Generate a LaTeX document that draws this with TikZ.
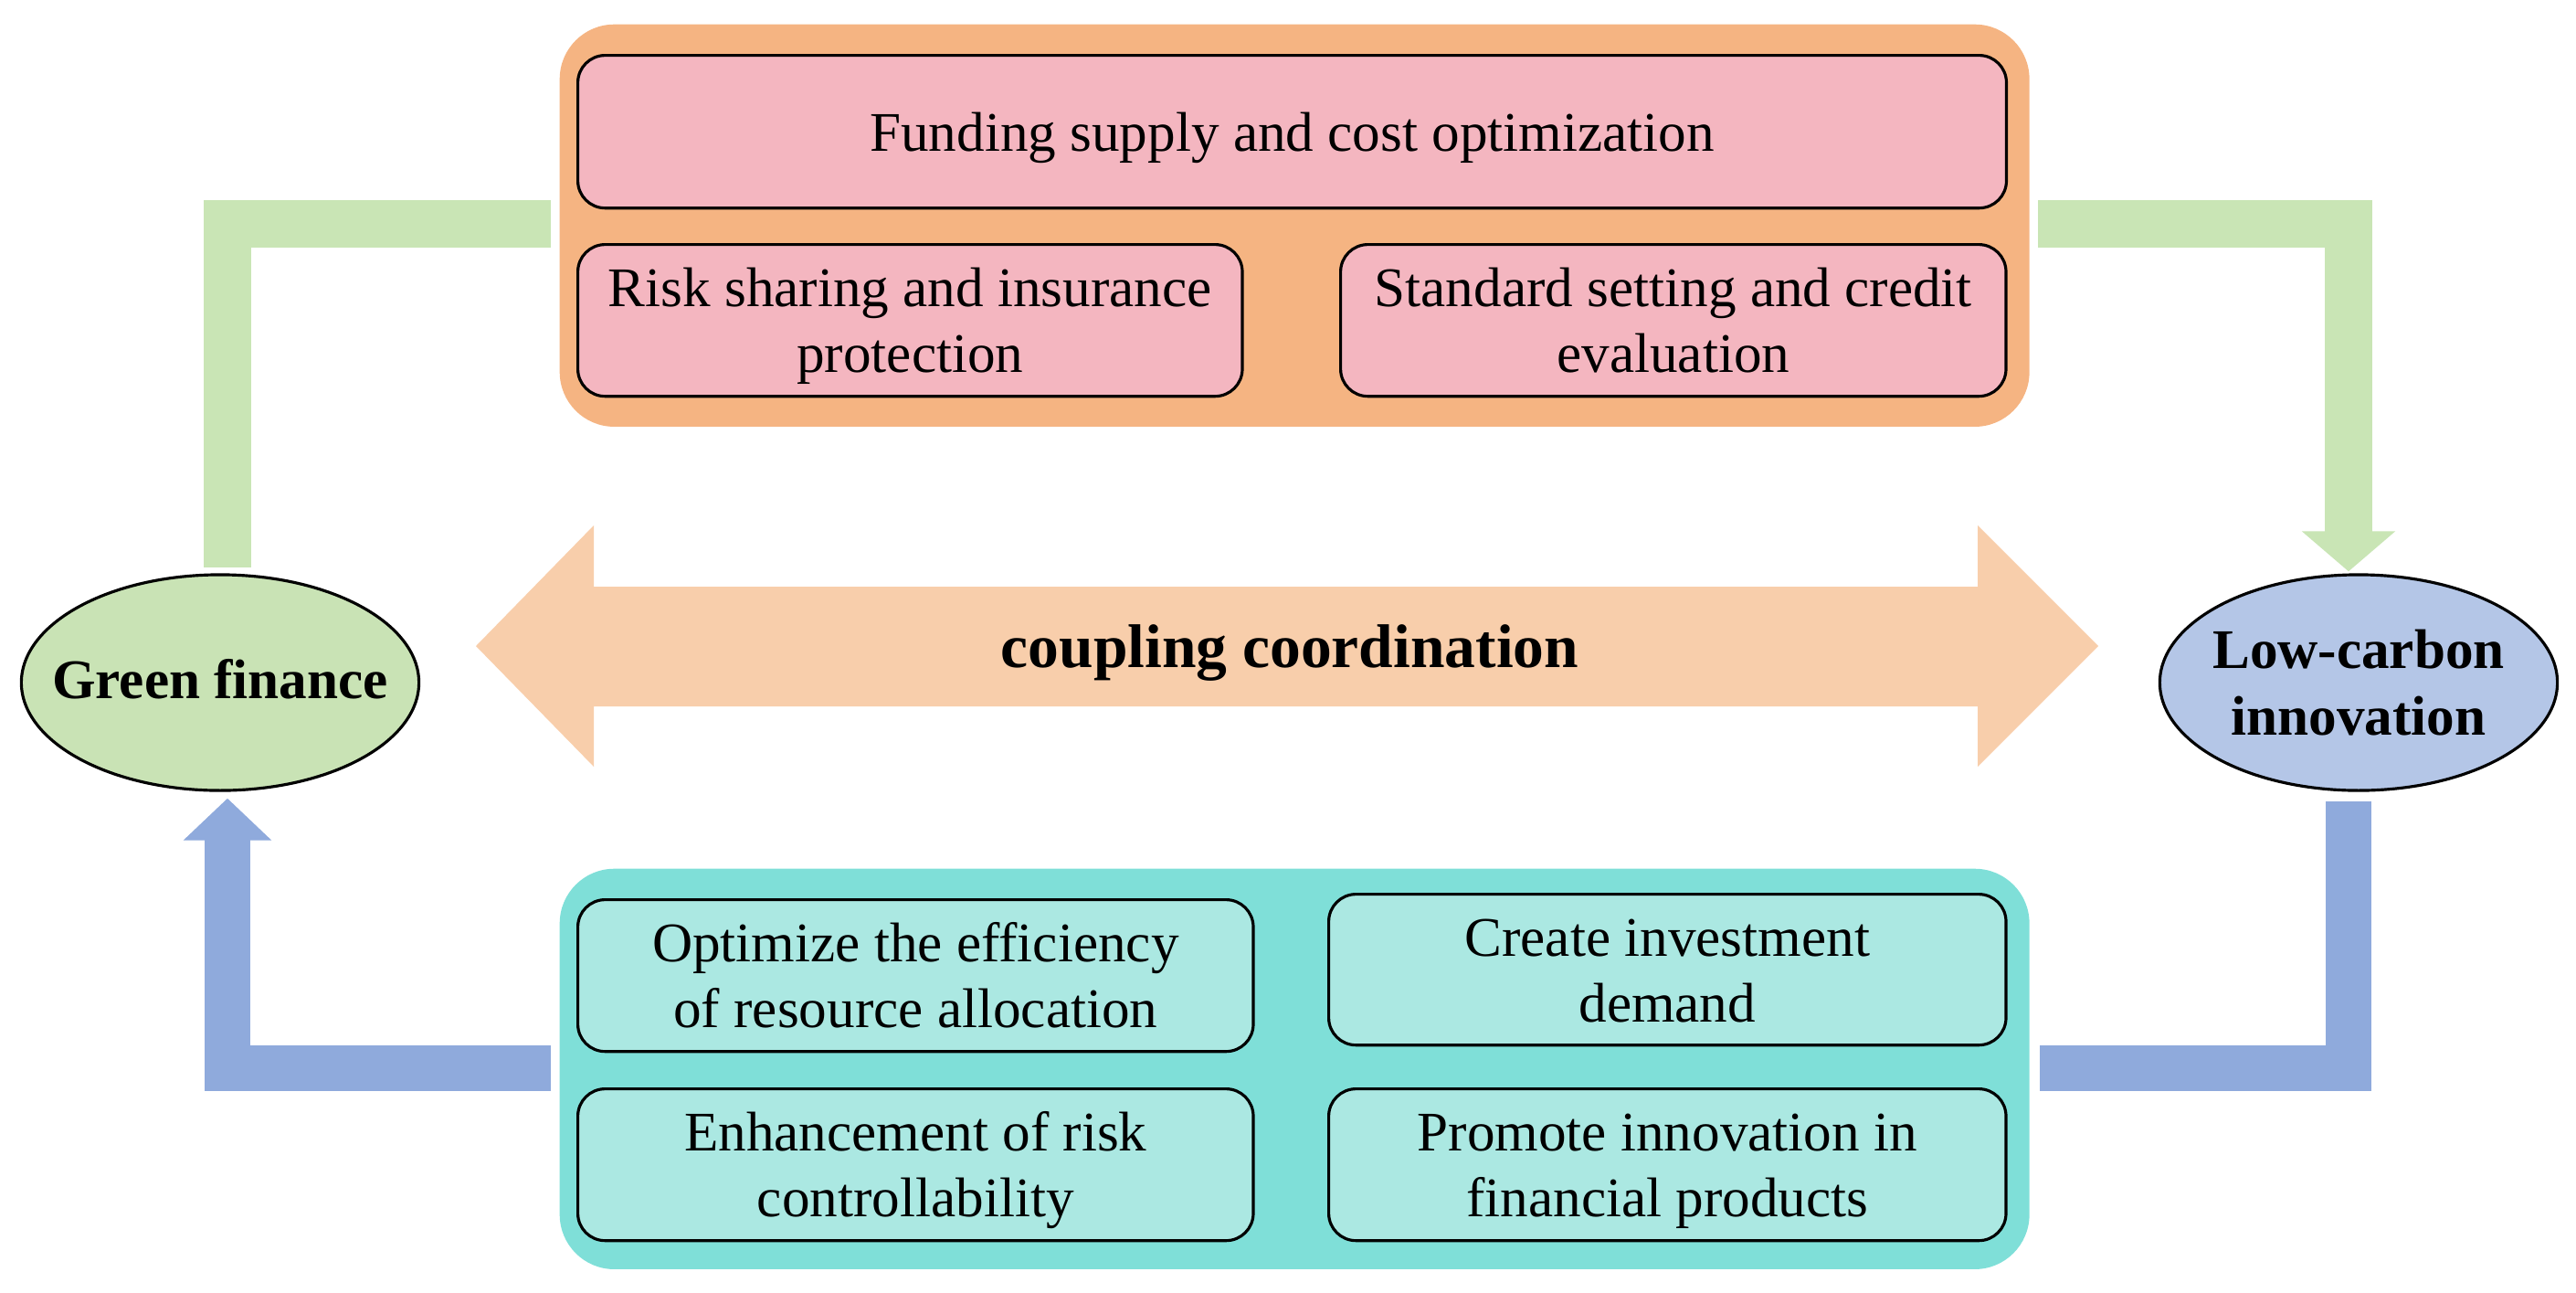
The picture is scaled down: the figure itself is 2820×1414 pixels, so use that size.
\documentclass[tikz,border=0pt]{standalone}
\usepackage{fontspec}
\setmainfont{Liberation Serif}
\usetikzlibrary{shapes.geometric,arrows.meta}
\definecolor{orangebg}{RGB}{245,180,130}
\definecolor{pinkbox}{RGB}{244,182,192}
\definecolor{greenar}{RGB}{201,229,181}
\definecolor{greenell}{RGB}{201,227,181}
\definecolor{peach}{RGB}{248,206,171}
\definecolor{blueell}{RGB}{180,198,231}
\definecolor{bluear}{RGB}{143,170,220}
\definecolor{tealbg}{RGB}{127,223,216}
\definecolor{tealbox}{RGB}{171,232,226}
\newcommand\mystrut{\rule[-4.2pt]{0pt}{20.5pt}}
\begin{document}
\begin{tikzpicture}[x=0.01cm,y=-0.01cm,
  txt/.style={font=\fontsize{17.4}{20.5}\selectfont, align=center},
  box/.style={txt, draw=black, line width=0.9pt, rounded corners=8.5pt, anchor=north west, inner sep=0pt},
  pinkb/.style={box, fill=pinkbox},
  tealb/.style={box, fill=tealbox},
  container/.style={anchor=north west, rounded corners=17pt, inner sep=0pt, minimum width=16.08cm},
  ell/.style={ellipse, draw=black, line width=0.9pt, inner sep=0pt, minimum width=4.35cm, minimum height=2.36cm},
  elltxt/.style={font=\fontsize{17.4}{21}\selectfont\bfseries, align=center, inner sep=0pt},
  garrow/.style={draw=greenar, line width=0.52cm},
  barrow/.style={draw=bluear, line width=0.5cm},
]
\useasboundingbox (0,0) rectangle (2820,1414);

% containers
\node[container, fill=orangebg, minimum height=4.40cm] (topC) at (612,26) {};
\node[container, fill=tealbg, minimum height=4.38cm] (botC) at (612,950) {};

% top boxes
\node[pinkb, minimum width=15.63cm, minimum height=1.67cm] (fund) at (631,59) {\mystrut Funding supply and cost optimization};
\node[pinkb, minimum width=7.27cm, minimum height=1.66cm] (risk) at (631,266) {\mystrut Risk sharing and insurance\\\mystrut protection};
\node[pinkb, minimum width=7.28cm, minimum height=1.66cm] (std) at (1466,266) {\mystrut Standard setting and credit\\\mystrut evaluation};

% bottom boxes
\node[tealb, minimum width=7.39cm, minimum height=1.66cm] (opt) at (631,983) {\mystrut Optimize the efficiency\\\mystrut of resource allocation};
\node[tealb, minimum width=7.41cm, minimum height=1.65cm] (create) at (1453,977) {\mystrut Create investment\\\mystrut demand};
\node[tealb, minimum width=7.39cm, minimum height=1.66cm] (enh) at (631,1190) {\mystrut Enhancement of risk\\\mystrut controllability};
\node[tealb, minimum width=7.41cm, minimum height=1.66cm] (prom) at (1453,1190) {\mystrut Promote innovation in\\\mystrut financial products};

% ellipses
\node[ell, fill=greenell] (GF) at (241,747) {};
\node[elltxt] (GFt) at ([yshift=0.04cm]GF.center) {Green finance};
\node[ell, fill=blueell] (LC) at (2582,747) {};
\node[elltxt] (LCt) at (LC.center) {Low-carbon\\innovation};

% coupling double arrow
\fill[peach] (521,707) -- (650,575) -- (650,642) -- (2165,642) -- (2165,575) -- (2297,707)
  -- (2165,839) -- (2165,773) -- (650,773) -- (650,839) -- cycle;
\node[font=\fontsize{19.2}{23}\selectfont\bfseries] (cc) at (1412,715) {coupling coordination};

% green connectors
\coordinate (g1) at (249,245);
\coordinate (g2) at (2571,245);
\draw[garrow, shorten <=0.09cm, shorten >=0.06cm] (topC.west |- g1) -- (g1) -- (g1 |- GF.north);
\draw[garrow, -{Triangle[width=1cm,length=0.44cm]}, shorten <=0.09cm, shorten >=0.02cm]
  (topC.east |- g2) -- (g2) -- (g2 |- LC.north);

% blue connectors
\coordinate (b1) at (249,1169);
\coordinate (b2) at (2571,1169);
\draw[barrow, shorten <=0.10cm, shorten >=0.11cm] (b2 |- LC.south) -- (b2) -- (botC.east |- b2);
\draw[barrow, -{Triangle[width=0.94cm,length=0.46cm]}, shorten <=0.09cm, shorten >=0.07cm]
  (botC.west |- b1) -- (b1) -- (b1 |- GF.south);
\end{tikzpicture}
\end{document}
